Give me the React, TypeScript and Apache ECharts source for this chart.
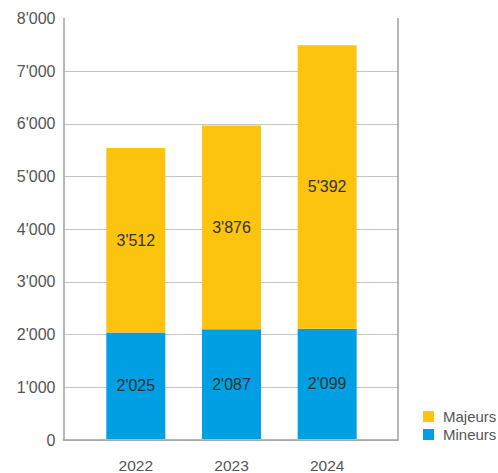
import React, { useEffect, useRef } from "react";
import * as echarts from "echarts";

const years = ["2022", "2023", "2024"];
const mineurs = [2025, 2087, 2099];
const majeurs = [3512, 3876, 5392];
const seriesNames = ["Majeurs", "Mineurs"];

const fmt = (v: number) => {
  const s = String(Math.round(v));
  return s.replace(/\B(?=(\d{3})+(?!\d))/g, "'");
};

export default function App() {
  const ref = useRef<HTMLDivElement>(null);
  useEffect(() => {
    if (!ref.current) return;
    const chart = echarts.init(ref.current, null, { renderer: "svg" });
    const font = "'Liberation Sans', Arial, sans-serif";
    chart.setOption({
      animation: false,
      textStyle: { fontFamily: font },
      grid: [
        { left: 63.5, right: 100, top: 18.5, bottom: 33 },
        { left: 88, width: 287, top: 18.5, bottom: 33 },
      ],
      legend: {
        data: seriesNames,
        orient: "vertical",
        left: 418,
        top: 404,
        itemWidth: 11,
        itemHeight: 11,
        itemGap: 3,
        icon: "rect",
        textStyle: { fontSize: 15, color: "#555", fontFamily: font, padding: [0, 0, 0, 4] },
      },
      xAxis: [
        {
          type: "value",
          gridIndex: 0,
          min: 0,
          max: 1,
          axisLine: { show: true, onZero: false, lineStyle: { color: "#a0a0a0", width: 1.5 } },
          axisTick: { show: false },
          axisLabel: { show: false },
          splitLine: { show: false },
        },
        {
          type: "category",
          gridIndex: 1,
          data: years,
          axisLine: { show: false },
          axisTick: { show: false },
          axisLabel: { color: "#555", fontSize: 15.5, margin: 18, fontFamily: font },
        },
      ],
      yAxis: [
        {
          type: "value",
          gridIndex: 0,
          min: 0,
          max: 8000,
          interval: 1000,
          axisLine: { show: true, lineStyle: { color: "#a0a0a0", width: 1.5 } },
          axisTick: { show: false },
          axisLabel: { color: "#555", fontSize: 16, margin: 8, formatter: (v: number) => fmt(v), fontFamily: font },
          splitLine: { show: true, showMaxLine: false, lineStyle: { color: "#c4c4c4", width: 1.2 } },
        },
        {
          type: "value",
          gridIndex: 0,
          position: "right",
          min: 0,
          max: 8000,
          interval: 1000,
          axisLine: { show: true, lineStyle: { color: "#a0a0a0", width: 1.5 } },
          axisTick: { show: false },
          axisLabel: { show: false },
          splitLine: { show: false },
        },
        {
          type: "value",
          gridIndex: 1,
          min: 0,
          max: 8000,
          interval: 1000,
          show: false,
        },
      ],
      series: [
        {
          name: "Mineurs",
          type: "bar",
          stack: "total",
          xAxisIndex: 1,
          yAxisIndex: 2,
          barWidth: 59,
          data: mineurs,
          itemStyle: { color: "#009FE3" },
          label: {
            show: true,
            position: "inside",
            color: "#333",
            fontSize: 16,
            fontFamily: font,
            formatter: (p: any) => fmt(p.value),
          },
        },
        {
          name: "Majeurs",
          type: "bar",
          stack: "total",
          xAxisIndex: 1,
          yAxisIndex: 2,
          barWidth: 59,
          data: majeurs,
          itemStyle: { color: "#FCC30F" },
          label: {
            show: true,
            position: "inside",
            color: "#333",
            fontSize: 16,
            fontFamily: font,
            formatter: (p: any) => fmt(p.value),
          },
        },
      ],
    });
    return () => chart.dispose();
  }, []);
  return <div ref={ref} style={{ width: 498, height: 473, position: "absolute", left: 0, top: 0 }} />;
}
